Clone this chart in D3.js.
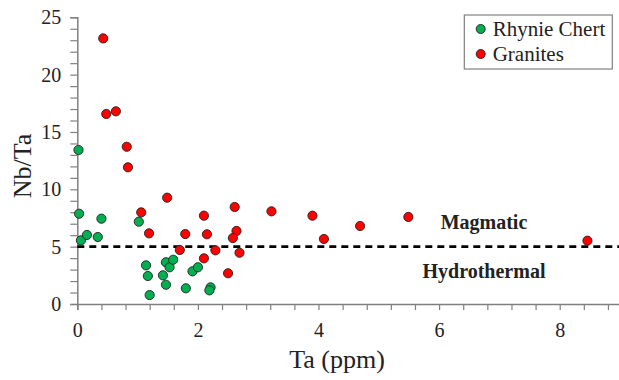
<!DOCTYPE html>
<html>
<head>
<meta charset="utf-8">
<script src="https://cdn.jsdelivr.net/npm/d3@7"></script>
<style>
  body { margin: 0; background: #fff; }
</style>
</head>
<body>
<svg id="chart"></svg>
<script>
const chertTa = [0.02, 0.03, 0.40, 1.02, 0.06, 0.16, 0.34, 1.14, 1.17, 1.47, 1.53, 1.59, 1.42, 1.47, 1.20, 1.80, 1.91, 2.00, 2.21, 2.19];
const chertNbTa = [13.43, 7.87, 7.44, 7.18, 5.55, 6.02, 5.84, 3.37, 2.44, 3.64, 3.20, 3.86, 2.50, 1.68, 0.78, 1.37, 2.85, 3.20, 1.45, 1.19];

const graniteTa = [0.43, 0.48, 0.64, 0.82, 0.84, 1.49, 1.06, 2.10, 2.61, 1.19, 1.79, 2.15, 2.64, 2.58, 1.70, 2.29, 2.69, 2.10, 2.50, 3.22, 3.90, 4.69, 4.09, 5.49, 8.46];
const graniteNbTa = [23.16, 16.57, 16.80, 13.71, 11.92, 9.27, 7.99, 7.70, 8.46, 6.16, 6.10, 6.08, 6.37, 5.75, 4.71, 4.68, 4.47, 3.98, 2.68, 8.08, 7.70, 6.80, 5.67, 7.59, 5.52];

const seriesNames = ["Rhynie Chert", "Granites"];
const seriesColors = ["#00b050", "#ff0000"];
const threshold = 5;
const zoneLabels = ["Magmatic", "Hydrothermal"];

const W = 619, H = 380;
const x0 = 77.3, x1 = 620, yTop = 17.3, yBot = 304;
const serif = "'Liberation Serif', 'DejaVu Serif', serif";

const svg = d3.select("#chart").attr("width", W).attr("height", H);

const x = d3.scaleLinear().domain([0, 9]).range([x0, x1]);
const y = d3.scaleLinear().domain([0, 25]).range([yBot, yTop]);

// axes
const xTicks = d3.range(0, 23).map(i => +(i * 0.4).toFixed(1)).filter(v => v <= 9);
const xAxis = d3.axisBottom(x)
  .tickValues(xTicks)
  .tickSize(6)
  .tickPadding(13)
  .tickFormat(v => (Number.isInteger(v) && v % 2 === 0) ? v : "");

const yAxis = d3.axisLeft(y)
  .tickValues(d3.range(0, 26))
  .tickSize(7)
  .tickPadding(9)
  .tickFormat(v => v % 5 === 0 ? v : "");

const gx = svg.append("g")
  .attr("transform", `translate(0, ${yBot})`)
  .call(xAxis);
const gy = svg.append("g")
  .attr("transform", `translate(${x0}, 0)`)
  .call(yAxis);

[gx, gy].forEach(g => {
  g.attr("font-family", null);
  g.select(".domain").attr("stroke", "#808080").attr("stroke-width", 1.5);
  g.selectAll(".tick line").attr("stroke", "#808080").attr("stroke-width", 1.2);
  g.selectAll(".tick text")
    .style("font-family", serif)
    .style("font-size", "20px")
    .attr("fill", "#222");
});

// threshold line
svg.append("line")
  .attr("x1", x(0)).attr("x2", x(9))
  .attr("y1", y(threshold)).attr("y2", y(threshold))
  .attr("stroke", "#000")
  .attr("stroke-width", 2.8)
  .attr("stroke-dasharray", "7,5");

// zone labels
zoneLabels.forEach((t, i) => {
  svg.append("text")
    .attr("x", 484).attr("y", i === 0 ? 222 : 271)
    .attr("text-anchor", "middle").attr("dominant-baseline", "central")
    .style("font-family", serif)
    .style("font-size", "20px").style("font-weight", "bold")
    .attr("fill", "#222")
    .text(t);
});

// points
const chert = chertTa.map((d, i) => ({ ta: d, r: chertNbTa[i] }));
const granite = graniteTa.map((d, i) => ({ ta: d, r: graniteNbTa[i] }));

[chert, granite].forEach((set, k) => {
  svg.append("g").selectAll("circle")
    .data(set)
    .enter()
    .append("circle")
    .attr("cx", d => x(d.ta))
    .attr("cy", d => y(d.r))
    .attr("r", 4.6)
    .attr("fill", seriesColors[k])
    .attr("stroke", "#222")
    .attr("stroke-width", 0.9);
});

// axis titles
svg.append("text")
  .attr("x", 337).attr("y", 368)
  .attr("text-anchor", "middle")
  .style("font-family", serif)
  .style("font-size", "26px")
  .attr("fill", "#222")
  .text("Ta (ppm)");
svg.append("text")
  .attr("transform", "translate(22, 166) rotate(-90)")
  .attr("text-anchor", "middle")
  .attr("dominant-baseline", "central")
  .style("font-family", serif)
  .style("font-size", "26px")
  .attr("fill", "#222")
  .text("Nb/Ta");

// legend
const legend = svg.append("g");
legend.append("rect")
  .attr("x", 464.3).attr("y", 15)
  .attr("width", 148).attr("height", 54)
  .attr("fill", "#fff")
  .attr("stroke", "#808080")
  .attr("stroke-width", 1.2);
seriesNames.forEach((name, i) => {
  const cy = 29 + i * 25;
  legend.append("circle")
    .attr("cx", 480.7).attr("cy", cy).attr("r", 4.5)
    .attr("fill", seriesColors[i])
    .attr("stroke", "#222").attr("stroke-width", 0.9);
  legend.append("text")
    .attr("x", 492.7).attr("y", cy)
    .attr("dominant-baseline", "central")
    .style("font-family", serif)
    .style("font-size", "21px")
    .attr("fill", "#222")
    .text(name);
});
</script>
</body>
</html>
